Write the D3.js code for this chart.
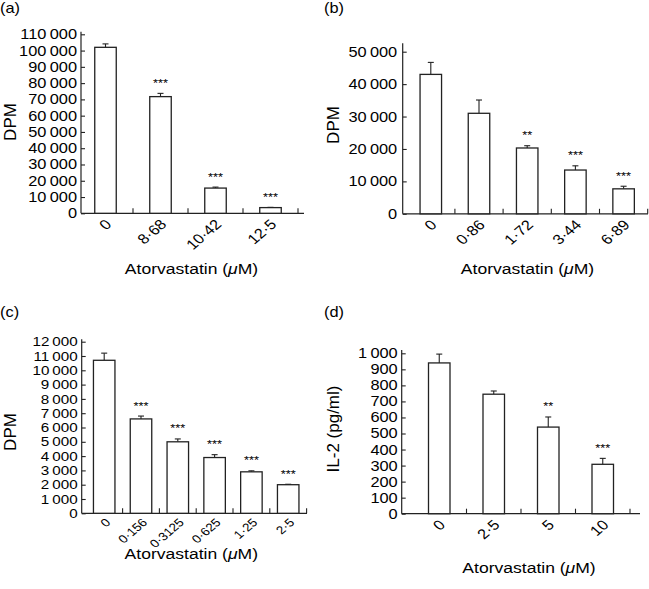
<!DOCTYPE html>
<html><head><meta charset="utf-8">
<script src="https://cdn.jsdelivr.net/npm/d3@7"></script>
<style>
body{margin:0;background:#fff}
svg{display:block;background:#fff}
text{font-family:"Liberation Sans",Arial,sans-serif;fill:#000}
</style>
</head><body><svg id="chart" width="649" height="589"></svg>
<script>
// ---------- data ----------
const catsA = ["0", "8·68", "10·42", "12·5"];
const valuesA = [102000, 71700, 15500, 3500];
const errTopA = [104100, 73700, 16100, 3650];
const starsA = ["", "***", "***", "***"];
const ticksA = [0, 10000, 20000, 30000, 40000, 50000, 60000, 70000, 80000, 90000, 100000, 110000];

const catsB = ["0", "0·86", "1·72", "3·44", "6·89"];
const valuesB = [43000, 31000, 20300, 13500, 7700];
const errTopB = [46700, 35100, 21000, 14800, 8500];
const starsB = ["", "", "**", "***", "***"];
const ticksB = [0, 10000, 20000, 30000, 40000, 50000];

const catsC = ["0", "0·156", "0·3125", "0·625", "1·25", "2·5"];
const valuesC = [10700, 6600, 5000, 3900, 2900, 2000];
const errTopC = [11200, 6800, 5200, 4100, 2970, 2030];
const starsC = ["", "***", "***", "***", "***", "***"];
const ticksC = [0, 1000, 2000, 3000, 4000, 5000, 6000, 7000, 8000, 9000, 10000, 11000, 12000];

const catsD = ["0", "2·5", "5", "10"];
const valuesD = [940, 745, 540, 308];
const errTopD = [995, 765, 603, 345];
const starsD = ["", "", "**", "***"];
const ticksD = [0, 100, 200, 300, 400, 500, 600, 700, 800, 900, 1000];

const xTitle = "Atorvastatin (";
const yLabels = ["DPM", "DPM", "DPM", "IL-2 (pg/ml)"];
const panelLabels = ["(a)", "(b)", "(c)", "(d)"];

// ---------- layout ----------
const SX = 1.17; // horizontal stretch of the lettering
const layouts = [
  {lx:0, ly:13, axisX:81, y0:213.3, yTopVal:110000, yTopPx:34.3, axisTop:31.7, bandStart:78, step:55, axisEnd:304, tickGap:4, tickFont:14, catFont:14, catDy:12, ylabX:16, ylabY:122, titleX:191.5, titleY:274},
  {lx:324, ly:13, axisX:402.7, y0:213.8, yTopVal:50000, yTopPx:51.7, axisTop:43.3, bandStart:406.7, step:48.2, axisEnd:648, tickGap:5.5, tickFont:14, catFont:14, catDy:12, ylabX:339, ylabY:125, titleX:527.5, titleY:274},
  {lx:0, ly:317, axisX:81.7, y0:513.3, yTopVal:12000, yTopPx:341.7, axisTop:339.3, bandStart:85.8, step:36.8, axisEnd:307, tickGap:4, tickFont:13, catFont:11.5, catDy:10, ylabX:16, ylabY:432, titleX:191.3, titleY:559},
  {lx:324, ly:317, axisX:401.7, y0:513.7, yTopVal:1000, yTopPx:353.3, axisTop:350, bandStart:412, step:54.5, axisEnd:640, tickGap:4, tickFont:14, catFont:14, catDy:12, ylabX:339, ylabY:429, titleX:529, titleY:573}
];

const datasets = [
  {cats:catsA, values:valuesA, err:errTopA, stars:starsA, ticks:ticksA},
  {cats:catsB, values:valuesB, err:errTopB, stars:starsB, ticks:ticksB},
  {cats:catsC, values:valuesC, err:errTopC, stars:starsC, ticks:ticksC},
  {cats:catsD, values:valuesD, err:errTopD, stars:starsD, ticks:ticksD}
];

const svg = d3.select("#chart");
const ink = "#222";
const fmt = v => {
  const s = String(v);
  if (v < 1000) return s;
  return s.slice(0, s.length - 3) + "\u2009" + s.slice(s.length - 3);
};
const place = (x, y, rot) => `translate(${x},${y}) scale(${SX},1)` + (rot ? ` rotate(${rot})` : "");

datasets.forEach((ds, k) => {
  const L = layouts[k];
  const g = svg.append("g");
  const n = ds.cats.length;
  const y = d3.scaleLinear().domain([0, L.yTopVal]).range([L.y0, L.yTopPx]);
  const p = 1 - 21.5 / L.step;
  const x = d3.scaleBand().domain(ds.cats)
    .range([L.bandStart, L.bandStart + n * L.step])
    .paddingInner(p).paddingOuter(p / 2);
  const bw = x.bandwidth();

  // panel label
  g.append("text").attr("transform", place(L.lx, L.ly))
    .style("font-size", "14px").text(panelLabels[k]);

  // y axis via d3 axis (inward ticks)
  const yAxis = d3.axisLeft(y).tickValues(ds.ticks).tickFormat(fmt)
    .tickSizeInner(-4).tickSizeOuter(0).tickPadding(L.tickGap);
  const ya = g.append("g").attr("transform", `translate(${L.axisX},0)`).call(yAxis);
  ya.select(".domain").remove();
  ya.selectAll(".tick line").attr("stroke", ink).attr("stroke-width", 1.1);
  ya.selectAll(".tick text").attr("fill", "#000")
    .attr("x", 0)
    .attr("transform", place(-L.tickGap, 0))
    .style("font-family", '"Liberation Sans",Arial,sans-serif')
    .style("font-size", L.tickFont + "px");

  // axis lines
  g.append("line").attr("x1", L.axisX).attr("x2", L.axisX)
    .attr("y1", L.axisTop).attr("y2", y(0))
    .attr("stroke", ink).attr("stroke-width", 1.2);
  g.append("line").attr("x1", L.axisX).attr("x2", L.axisEnd)
    .attr("y1", y(0)).attr("y2", y(0))
    .attr("stroke", ink).attr("stroke-width", 1.2);

  // x ticks at band boundaries (inward)
  const x0 = x.range()[0];
  for (let i = 1; i <= n; i++) {
    const tx = x0 + i * x.step();
    g.append("line").attr("x1", tx).attr("x2", tx)
      .attr("y1", y(0)).attr("y2", y(0) - 5)
      .attr("stroke", ink).attr("stroke-width", 1.1);
  }

  // error bars
  ds.cats.forEach((c, i) => {
    const cx = x(c) + bw / 2;
    g.append("line").attr("x1", cx).attr("x2", cx)
      .attr("y1", y(ds.values[i])).attr("y2", y(ds.err[i]))
      .attr("stroke", ink).attr("stroke-width", 1.1);
    g.append("line").attr("x1", cx - 3).attr("x2", cx + 3)
      .attr("y1", y(ds.err[i])).attr("y2", y(ds.err[i]))
      .attr("stroke", ink).attr("stroke-width", 1.1);
  });

  // bars
  g.selectAll("rect.bar").data(ds.cats).enter().append("rect")
    .attr("class", "bar")
    .attr("x", c => x(c))
    .attr("y", (c, i) => y(ds.values[i]))
    .attr("width", bw)
    .attr("height", (c, i) => y(0) - y(ds.values[i]))
    .attr("fill", "#fff").attr("stroke", ink).attr("stroke-width", 1.3);

  // significance stars
  ds.cats.forEach((c, i) => {
    if (!ds.stars[i]) return;
    g.append("text").attr("transform", place(x(c) + bw / 2, y(ds.err[i]) - 6.5))
      .attr("text-anchor", "middle").style("font-size", "11px").text(ds.stars[i]);
  });

  // rotated category labels
  ds.cats.forEach(c => {
    const cx = x(c) + bw / 2;
    g.append("text")
      .attr("transform", place(cx + 7, y(0) + L.catDy, -45))
      .attr("text-anchor", "end").style("font-size", L.catFont + "px").text(c);
  });

  // x title
  const t = g.append("text").attr("transform", place(L.titleX, L.titleY))
    .attr("text-anchor", "middle").style("font-size", "15px");
  t.append("tspan").text(xTitle);
  t.append("tspan").style("font-style", "italic").text("\u03bc");
  t.append("tspan").text("M)");

  // y label (not stretched)
  g.append("text")
    .attr("transform", `translate(${L.ylabX},${L.ylabY}) rotate(-90)`)
    .attr("text-anchor", "middle").style("font-size", "17px").text(yLabels[k]);
});
</script>
</body></html>
